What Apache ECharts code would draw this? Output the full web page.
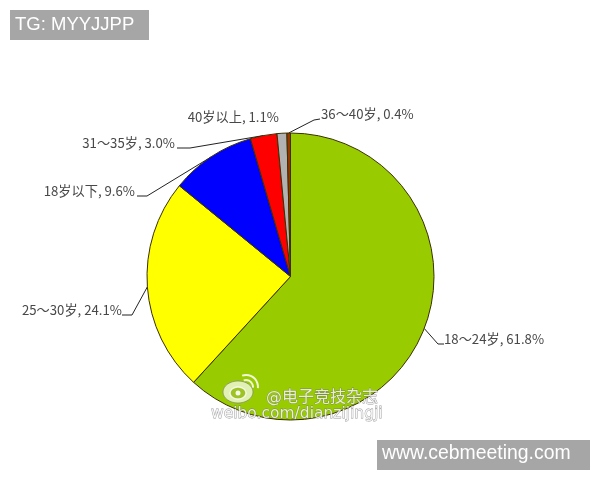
<!DOCTYPE html>
<html><head><meta charset="utf-8">
<style>html,body{margin:0;padding:0;background:#fff}#c{width:600px;height:480px}</style>
<script src="https://cdn.jsdelivr.net/npm/echarts@6/dist/echarts.min.js"></script>
</head><body><div id="c"></div>
<script>
const categories = ['18～24岁','25～30岁','18岁以下','31～35岁','40岁以上','36～40岁'];
const values = [61.8,24.1,9.6,3.0,1.1,0.4];
const colors = ['#99cc00','#ffff00','#0000ff','#ff0000','#b2b2b2','#993300'];
const badge1 = 'TG: MYYJJPP';
const badge2 = 'www.cebmeeting.com';
const mark1 = '@电子竞技杂志';
const mark2 = 'weibo.com/dianzijingji';
// label anchor [x, y, align] and leader elbow points
const labelPos = [
 {x:444,y:339,align:'left',  pts:[[438,344],[444,344]]},
 {x:122,y:310,align:'right', pts:[[132,315],[122,315]]},
 {x:135,y:191,align:'right', pts:[[147,196],[137,196]]},
 {x:175,y:143,align:'right', pts:[[190,148],[177,148]]},
 {x:279,y:117,align:'right', pts:null},
 {x:321,y:114,align:'left',  pts:[[314,120],[320,119]]}
];
const chart = echarts.init(document.getElementById('c'),null,{renderer:'canvas'});
const wmStyle = {fill:'rgba(255,255,255,0.8)',stroke:'rgba(110,110,110,0.7)',lineWidth:0.8,fontFamily:'"DejaVu Sans","Noto Sans CJK SC",sans-serif'};
chart.setOption({
 animation:false,
 backgroundColor:'#ffffff',
 series:[{
  type:'pie',center:[290.5,276.5],radius:[0,143.5],startAngle:90,clockwise:true,
  data:categories.map((n,i)=>({name:n,value:values[i],itemStyle:{color:colors[i]}})),
  itemStyle:{borderColor:'#3a3000',borderWidth:1},
  emphasis:{disabled:true},
  minShowLabelAngle:0,avoidLabelOverlap:false,
  label:{show:true,
    formatter:p=>p.name+', '+p.value.toFixed(1)+'%',
    fontFamily:'"Noto Sans CJK SC",sans-serif',fontSize:13.2,color:'#484848',padding:0},
  labelLine:{show:true,length:10,length2:10,lineStyle:{color:'#222',width:1}},
  labelLayout:p=>{
    const c=labelPos[p.dataIndex];
    const start=p.labelLinePoints?p.labelLinePoints[0]:[0,0];
    const o={x:c.x,y:c.y,align:c.align,verticalAlign:'middle'};
    o.labelLinePoints=c.pts?[start,c.pts[0],c.pts[1]]:[start,start,start];
    return o;
  }
 }],
 graphic:[
  {type:'rect',z:100,shape:{x:10,y:10,width:139,height:30},style:{fill:'#a6a6a6'}},
  {type:'text',z:101,x:15,y:15,style:{text:badge1,fill:'#fff',fontSize:18.5,fontFamily:'"Liberation Sans",sans-serif'}},
  {type:'rect',z:100,shape:{x:377,y:440,width:213,height:30},style:{fill:'#a6a6a6'}},
  {type:'text',z:101,x:382,y:444,style:{text:badge2,fill:'#fff',fontSize:19.4,fontFamily:'"Liberation Sans",sans-serif'}},
  {type:'text',z:101,x:266,y:390,style:Object.assign({text:mark1,fontSize:16},wmStyle)},
  {type:'text',z:101,x:211,y:406,style:Object.assign({text:mark2,fontSize:15.5},wmStyle)},
  {type:'group',z:101,x:238,y:392,children:[
    {type:'ellipse',z:101,shape:{cx:0,cy:0,rx:15,ry:11},style:{fill:'rgba(255,255,255,0.7)',stroke:'rgba(120,120,120,0.6)',lineWidth:1}},
    {type:'ellipse',z:102,shape:{cx:0,cy:1,rx:8,ry:6},style:{fill:'rgba(150,190,20,0.9)',stroke:'rgba(255,255,255,0.8)',lineWidth:1.5}},
    {type:'circle',z:103,shape:{cx:0,cy:1,r:2.5},style:{fill:'rgba(255,255,255,0.9)'}},
    {type:'arc',z:101,shape:{cx:8,cy:-5,r:7,startAngle:-1.9,endAngle:0.1},style:{fill:'none',stroke:'rgba(255,255,255,0.85)',lineWidth:2}},
    {type:'arc',z:101,shape:{cx:8,cy:-5,r:12,startAngle:-1.9,endAngle:0.1},style:{fill:'none',stroke:'rgba(255,255,255,0.85)',lineWidth:2}}
  ]}
 ]
});
</script></body></html>
